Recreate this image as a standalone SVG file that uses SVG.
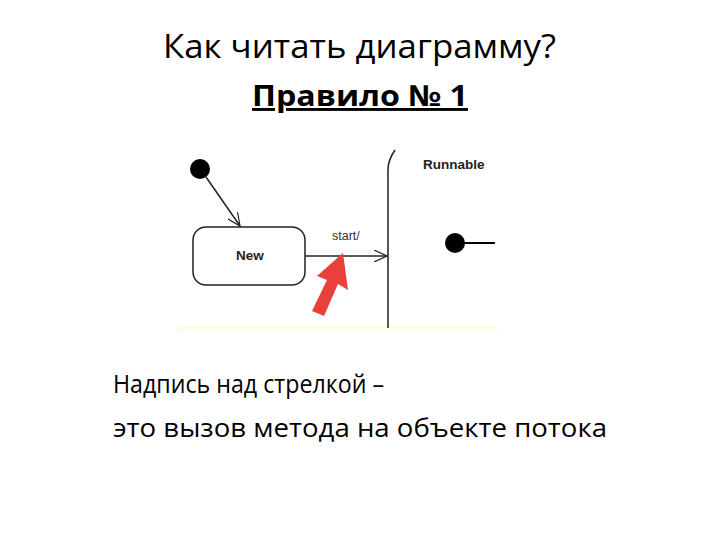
<svg xmlns="http://www.w3.org/2000/svg" width="720" height="540" viewBox="0 0 720 540">
<defs>
<style>
.t{font-family:"Open Sans","Liberation Sans",sans-serif;fill:#000}
.d{font-family:"Liberation Sans",Arial,sans-serif;font-weight:bold;font-size:13.5px;fill:#222}
.ln{stroke:#222;stroke-width:1.5;fill:none}
</style>
<marker id="oa" markerWidth="14" markerHeight="12" refX="13" refY="6" orient="auto" markerUnits="userSpaceOnUse">
<path d="M0,0 L13,6 L0,12" fill="none" stroke="#222" stroke-width="1.2"/>
</marker>
</defs>
<rect width="720" height="540" fill="#fff"/>
<text class="t" x="163" y="58" font-size="32" textLength="393" lengthAdjust="spacingAndGlyphs">Как читать диаграмму?</text>
<text class="t" x="252" y="106" font-size="29" font-weight="bold" text-decoration="underline" textLength="216" lengthAdjust="spacingAndGlyphs">Правило № 1</text>
<rect x="178" y="326" width="319" height="5" fill="#fbfbe8"/>
<g id="init"><circle cx="200" cy="169" r="10" fill="#000"/></g>
<g id="new"><rect x="193" y="227" width="112" height="58" rx="13" class="ln"/><text class="d" x="250" y="260" text-anchor="middle">New</text></g>
<g id="runnable"><path d="M395,150 Q388,160 388,170 L388,328" class="ln"/><text class="d" x="423" y="169">Runnable</text><circle cx="455" cy="243" r="10" fill="#000"/><line x1="455" y1="243" x2="495" y2="243" stroke="#000" stroke-width="2"/></g>
<g id="connectors">
<line x1="206" y1="177" x2="240" y2="226" class="ln" marker-end="url(#oa)"/>
<line x1="305" y1="256" x2="387" y2="256" class="ln" marker-end="url(#oa)"/>
<text x="332" y="240" font-family="Liberation Sans,Arial,sans-serif" font-size="12.5" fill="#333">start/</text>
</g>
<g id="pointer"><path d="M343,253 L348,290 L338,284 L324,316 L312,311 L327,280 L317,276 Z" fill="#e8403a"/></g>
<text class="t" x="113" y="393" font-size="25" textLength="271" lengthAdjust="spacingAndGlyphs">Надпись над стрелкой –</text>
<text class="t" x="113" y="437" font-size="25" textLength="494" lengthAdjust="spacingAndGlyphs">это вызов метода на объекте потока</text>
</svg>
